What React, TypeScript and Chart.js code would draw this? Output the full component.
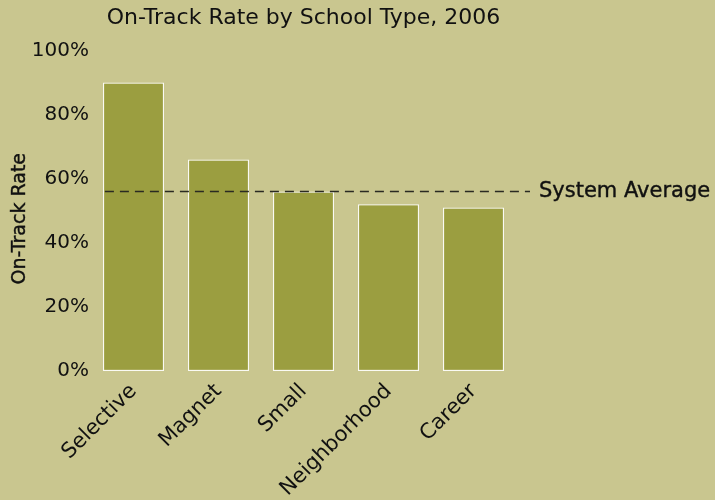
import React, { useEffect, useRef } from "react";
import { Chart, registerables } from "chart.js";

Chart.register(...registerables);

const categories = ["Selective", "Magnet", "Small", "Neighborhood", "Career"];
const onTrackRates = [90, 66, 56, 52, 51];
const systemAverage = 56;
const averageLabel = "System Average";
const titleText = "On-Track Rate by School Type, 2006";
const yTitle = "On-Track Rate";

const BG = "#c9c68f";
const BAR = "#9b9e40";
const SANS = "'DejaVu Sans', sans-serif";

const avgPlugin = {
  id: "avgLine",
  afterDatasetsDraw(chart: any) {
    const { ctx, chartArea } = chart;
    const y = chart.scales.y.getPixelForValue(systemAverage);
    const meta = chart.getDatasetMeta(0);
    const first: any = meta.data[0];
    const x0 = first.x - first.width / 2 + 2;
    const x1 = chartArea.right + 14;
    ctx.save();
    ctx.strokeStyle = "#2a2a22";
    ctx.lineWidth = 1.5;
    ctx.setLineDash([9, 6]);
    ctx.beginPath();
    ctx.moveTo(x0, y);
    ctx.lineTo(x1, y);
    ctx.stroke();
    ctx.setLineDash([]);
    ctx.fillStyle = "#111";
    ctx.strokeStyle = "#111";
    ctx.lineWidth = 0.4;
    ctx.font = `21px ${SANS}`;
    ctx.textAlign = "left";
    ctx.textBaseline = "middle";
    ctx.fillText(averageLabel, chartArea.right + 23, y);
    ctx.strokeText(averageLabel, chartArea.right + 23, y);
    // y-axis title
    ctx.translate(20, (chartArea.top + chartArea.bottom) / 2 + 8);
    ctx.rotate(-Math.PI / 2);
    ctx.textAlign = "center";
    ctx.font = `19px ${SANS}`;
    ctx.fillText(yTitle, 0, 0);
    ctx.strokeText(yTitle, 0, 0);
    ctx.restore();
  },
};

export default function App() {
  const ref = useRef<HTMLCanvasElement>(null);
  useEffect(() => {
    if (!ref.current) return;
    const chart = new Chart(ref.current, {
      type: "bar",
      data: {
        labels: categories,
        datasets: [
          {
            data: onTrackRates,
            backgroundColor: BAR,
            borderColor: "rgba(255,255,255,0.9)",
            borderWidth: 1.3,
            borderSkipped: false,
            categoryPercentage: 0.72,
            barPercentage: 1,
          },
        ],
      },
      options: {
        responsive: false,
        animation: false,
        layout: { padding: { right: 199, left: 0, top: 0, bottom: 0 } },
        plugins: {
          legend: { display: false },
          tooltip: { enabled: false },
          title: {
            display: true,
            text: titleText,
            fullSize: false,
            color: "#111",
            font: { family: SANS, size: 22, weight: "normal" },
            padding: { top: 5, bottom: 19 },
          },
        },
        scales: {
          x: {
            grid: { display: false },
            border: { display: false },
            ticks: {
              color: "#111",
              font: { family: SANS, size: 21 },
              maxRotation: 45,
              minRotation: 45,
              padding: 0,
            },
            afterFit: (s: any) => {
              s.height = 129;
            },
          },
          y: {
            min: 0,
            max: 100,
            grid: { display: false, drawTicks: false },
            border: { display: false },
            ticks: {
              stepSize: 20,
              color: "#111",
              padding: 2,
              font: { family: SANS, size: 20 },
              callback: (v: any) => v + "%",
            },
            afterFit: (s: any) => {
              s.width = 91;
            },
          },
        },
      },
      plugins: [avgPlugin],
    });
    return () => chart.destroy();
  }, []);
  return (
    <div
      style={{
        position: "absolute",
        left: 0,
        top: 0,
        width: 715,
        height: 500,
        background: BG,
      }}
    >
      <canvas ref={ref} width={715} height={500} />
    </div>
  );
}
